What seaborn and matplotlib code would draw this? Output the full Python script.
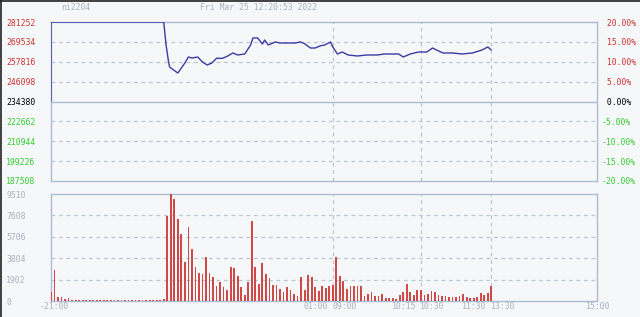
import numpy as np
import pandas as pd
import matplotlib
matplotlib.use("Agg")
import matplotlib.pyplot as plt
from matplotlib.transforms import blended_transform_factory, offset_copy
from matplotlib.lines import Line2D
import seaborn as sns

# ---------------- data ----------------
symbol = "ni2204"
timestamp = "Fri Mar 25 12:20:53 2022"
base_price = 234380

price_ticks = [187508, 199226, 210944, 222662, 234380, 246098, 257816, 269534, 281252]
pct_values = [-20, -15, -10, -5, 0, 5, 10, 15, 20]
pct_labels = ["-20.00%", "-15.00%", "-10.00%", "-5.00%", " 0.00%",
              " 5.00%", " 10.00%", " 15.00%", " 20.00%"]
vol_ticks = [0, 1902, 3804, 5706, 7608, 9510]

# session layout in minutes from 21:00 (21:00-01:00, 09:00-10:15, 10:30-11:30, 13:30-15:00)
time_tick_pos = [0, 240, 240, 315, 315, 375, 375, 465]
time_tick_labels = ["-21:00", "01:00", "09:00", "10:15", "10:30", "11:30", "13:30", "15:00"]
time_tick_ha = ["center", "right", "left", "right", "left", "right", "left", "center"]
time_tick_dx = [3.5, -4.5, 0, -5, -0.5, -5, 0, 1]   # pixel nudges of the label text
total_minutes = 465
session_breaks = [240, 315, 375]

# price line (minute, price)
line_minutes = [0, 0, 96, 98, 100, 101, 108, 114, 117, 120, 125, 129, 133, 137, 141,
                146, 150, 155, 159, 165, 170, 172, 176, 180, 182, 185, 189, 191, 195,
                201, 208, 212, 215, 221, 225, 229, 233, 238, 240, 244, 248, 253, 261,
                269, 278, 284, 290, 296, 300, 306, 313, 320, 325, 330, 334, 342, 350,
                359, 367, 372, 375]
line_prices = [234380, 281252, 281252, 267690, 258260, 254720, 251180, 257080, 260620,
               260030, 260620, 257670, 255900, 257080, 259850, 259850, 261030, 262980,
               261800, 262390, 267690, 271820, 271820, 268280, 270640, 267690, 268870,
               269460, 268870, 268870, 268870, 269460, 268870, 265920, 265920, 267100,
               267690, 269460, 266510, 262390, 263570, 261800, 261210, 261800, 261800,
               262390, 262390, 262390, 260620, 262390, 263570, 263570, 265920, 264160,
               262980, 262980, 262390, 262980, 264740, 266510, 264740]

# 3-minute volume bars
vol_minutes = list(range(0, 378, 3))
volumes = [800, 2790, 360, 360, 210, 280, 100, 100, 100, 100,
           100, 100, 100, 100, 100, 100, 100, 100, 100, 100,
           100, 100, 100, 100, 100, 100, 100, 100, 100, 100,
           100, 100, 200, 7600, 9510, 9080, 7330, 6000, 3530, 6550,
           4630, 3080, 2550, 2400, 3970, 2500, 2140, 1370, 1750, 1310,
           1010, 3080, 2940, 2280, 1310, 570, 1700, 7150, 3080, 1520,
           3390, 2410, 2050, 1460, 1460, 1100, 860, 1250, 1010, 630,
           480, 2200, 1010, 2350, 2200, 1250, 950, 1370, 1220, 1370,
           1460, 3890, 2280, 1810, 1070, 1370, 1370, 1370, 1370, 480,
           630, 810, 480, 480, 630, 270, 270, 270, 180, 570,
           810, 1550, 810, 570, 1010, 1010, 570, 660, 920, 810,
           570, 520, 520, 360, 360, 360, 520, 630, 360, 270,
           270, 420, 780, 570, 760, 1370]

# ---------------- style ----------------
sns.set_style("white")
plt.rcParams["font.family"] = ["DejaVu Sans Mono"]

BG = "#f6f7f9"
FRAME = "#aabdd2"
GRID = "#b9c6d4"
RED = "#cc3333"
GREEN = "#33cc33"
LABEL = "#a6b2c0"
LINE = "#3b3ba3"
BAR = "#d04848"
FS = 5.9

W, H = 640, 317
fig = plt.figure(figsize=(W / 100, H / 100), dpi=100, facecolor=BG)

def frac(x0, y0, x1, y1):
    return [x0 / W, 1 - y1 / H, (x1 - x0) / W, (y1 - y0) / H]

ax = fig.add_axes(frac(51, 22, 597, 181))
axv = fig.add_axes(frac(51, 194, 597, 301.4))

for a in (ax, axv):
    a.set_facecolor(BG)
    for s in a.spines.values():
        s.set_color(FRAME)
        s.set_linewidth(1.0)
    a.set_xlim(0, total_minutes)
    for b in session_breaks:
        a.axvline(b, color=GRID, lw=0.9, ls=(0, (3, 3)), zorder=0)

# ---- price panel ----
df_line = pd.DataFrame({"minute": line_minutes, "price": line_prices})
sns.lineplot(data=df_line, x="minute", y="price", ax=ax, sort=False, estimator=None,
             color=LINE, lw=1.0, zorder=3)
ax.set_ylim(price_ticks[0], price_ticks[-1])
for p in price_ticks[1:-1]:
    if p == base_price:
        ax.axhline(p, color=FRAME, lw=1.0, zorder=1)
    else:
        ax.axhline(p, color=GRID, lw=0.9, ls=(0, (3, 3)), zorder=0)
ax.set_yticks(price_ticks)
ax.set_yticklabels([str(p) for p in price_ticks])
ax.tick_params(axis="y", length=0, pad=32.4, labelsize=FS)
for lab, p in zip(ax.get_yticklabels(), price_ticks):
    lab.set_ha("left")
    lab.set_color(RED if p > base_price else ("black" if p == base_price else GREEN))
ax.set_xticks([])
ax.set_xlabel("")
ax.set_ylabel("")

axr = ax.twinx()
axr.set_ylim(-20, 20)
axr.set_yticks(pct_values)
axr.set_yticklabels(pct_labels)
axr.tick_params(axis="y", length=0, pad=3.6, labelsize=FS)
for lab, v in zip(axr.get_yticklabels(), pct_values):
    lab.set_ha("left")
    lab.set_color(RED if v > 0 else ("black" if v == 0 else GREEN))
for s in axr.spines.values():
    s.set_visible(False)

# ---- volume panel ----
df_vol = pd.DataFrame({"minute": vol_minutes, "volume": volumes})
sns.barplot(data=df_vol, x="minute", y="volume", ax=axv, native_scale=True,
            color=BAR, width=0.5, saturation=1, edgecolor="none", zorder=3)
axv.set_xlim(0, total_minutes)
axv.set_ylim(0, vol_ticks[-1])
for v in vol_ticks[1:-1]:
    axv.axhline(v, color=GRID, lw=0.9, ls=(0, (3, 3)), zorder=0)
axv.set_yticks(vol_ticks)
axv.set_yticklabels([str(v) for v in vol_ticks])
axv.tick_params(axis="y", length=0, pad=32.4, labelsize=FS, colors=LABEL)
for lab in axv.get_yticklabels():
    lab.set_ha("left")
axv.set_xticks([])
axv.set_xlabel("")
axv.set_ylabel("")

# time labels under the volume panel
trans = blended_transform_factory(axv.transData, fig.transFigure)
for pos, lab, ha, dx in zip(time_tick_pos, time_tick_labels, time_tick_ha, time_tick_dx):
    t = offset_copy(trans, fig=fig, x=dx * 72 / 100, y=0, units="points")
    axv.text(pos, 1 - 306.5 / H, lab, transform=t, ha=ha, va="center",
             fontsize=FS, color=LABEL, clip_on=False)

# ---- header ----
fig.text(61 / W, 1 - 7 / H, symbol, color=LABEL, fontsize=FS, va="center", ha="left")
fig.text(200 / W, 1 - 7 / H, timestamp, color=LABEL, fontsize=FS, va="center", ha="left")

# dark image border on top and left edges
fig.add_artist(Line2D([0, 1], [1 - 0.5 / H, 1 - 0.5 / H], transform=fig.transFigure,
                      color="#222222", lw=1.2))
fig.add_artist(Line2D([0.5 / W, 0.5 / W], [0, 1], transform=fig.transFigure,
                      color="#222222", lw=1.2))

fig.savefig("out.png", dpi=100, facecolor=BG)
